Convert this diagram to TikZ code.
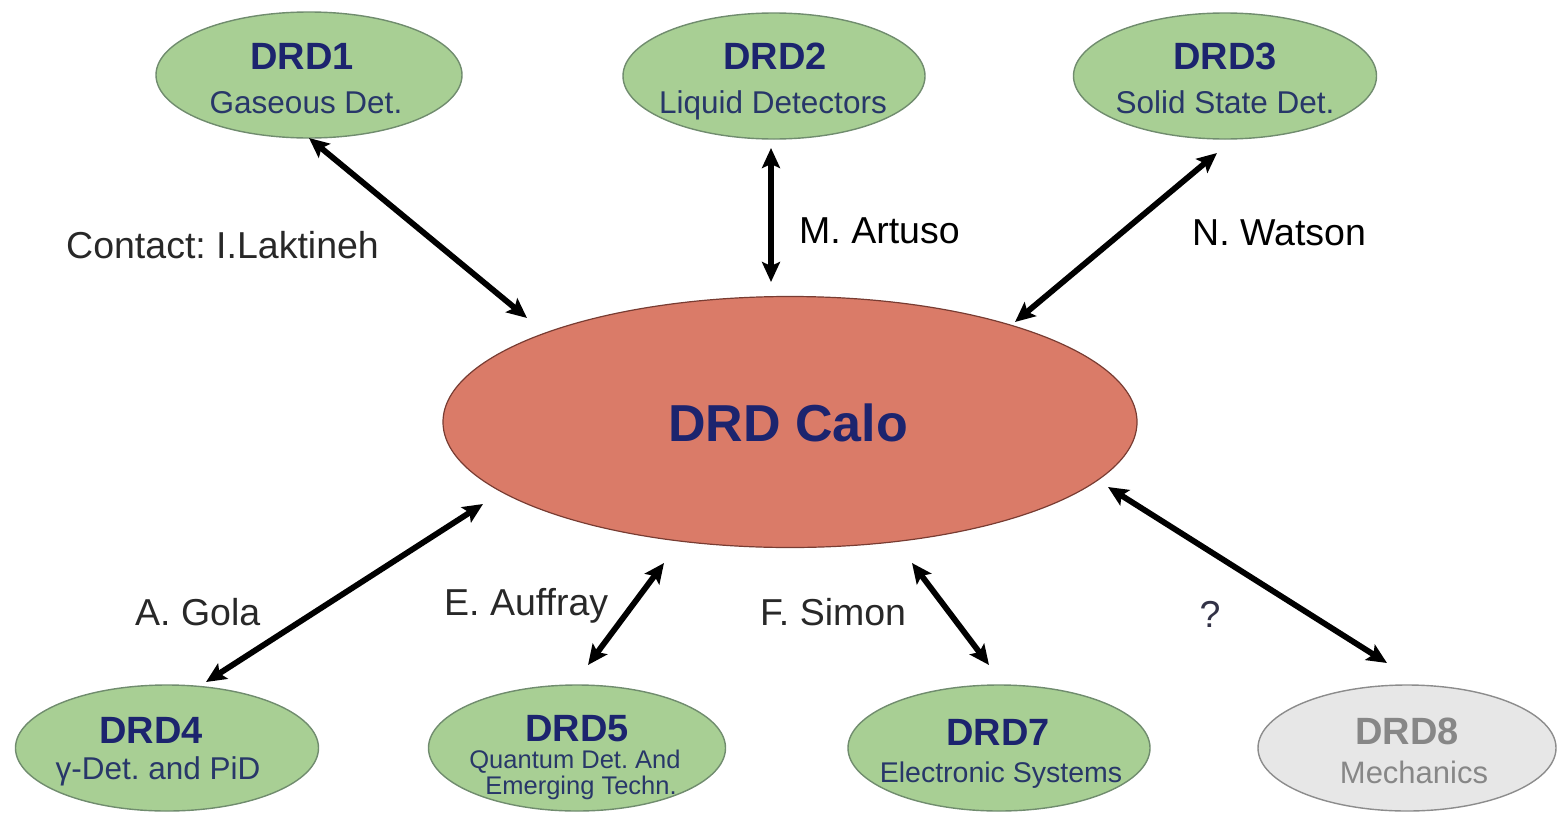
\documentclass[tikz,border=0pt]{standalone}
\usepackage{fontspec}
\setmainfont{Liberation Sans}
\usetikzlibrary{shapes.geometric,arrows.meta}
\frenchspacing

\definecolor{wgfill}{RGB}{168,207,148}
\definecolor{wgedge}{RGB}{112,140,110}
\definecolor{calofill}{RGB}{218,123,104}
\definecolor{caloedge}{RGB}{120,60,50}
\definecolor{greyfill}{RGB}{231,231,231}
\definecolor{greyedge}{RGB}{140,140,140}
\definecolor{greytext}{RGB}{135,135,135}
\definecolor{navy}{RGB}{28,36,110}
\definecolor{subnavy}{RGB}{40,55,105}
\definecolor{labelgrey}{RGB}{40,40,40}
\definecolor{qgrey}{RGB}{50,50,70}

\newcommand{\fs}[1]{\fontsize{#1}{#1}\selectfont}

\tikzset{
  wg/.style={ellipse, draw=wgedge, fill=wgfill, line width=1.4pt, inner sep=0pt},
  wgoff/.style={ellipse, draw=greyedge, fill=greyfill, line width=1.4pt, inner sep=0pt},
  calo/.style={ellipse, draw=caloedge, fill=calofill, line width=1.2pt, inner sep=0pt},
  title/.style={anchor=base, inner sep=0pt, text=navy, font=\fs{38}\bfseries},
  sub/.style={anchor=base, inner sep=0pt, text=subnavy, font=\fs{31.5}},
  contact/.style={anchor=base west, inner sep=0pt, text=labelgrey, font=\fs{37.5}},
  link/.style={line width=5.8pt,
    {Stealth[length=20pt,width=18pt,inset=4pt]}-{Stealth[length=20pt,width=18pt,inset=4pt]}},
}

\begin{document}
\begin{tikzpicture}[x=1pt,y=-1pt]
\useasboundingbox (0,0) rectangle (1557,814);

% central group
\node[calo, minimum width=694pt, minimum height=251pt] (calo) at (790,422) {};
\node[title, font=\fs{52}\bfseries] (calot) at (788,441) {DRD Calo};

% upper row of working groups
\node[wg, minimum width=306pt, minimum height=126pt] (d1) at (309,75) {};
\node[title] (d1t) at (302,69) {DRD1};
\node[sub] (d1s) at (306,113) {Gaseous Det.};

\node[wg, minimum width=302pt, minimum height=126pt] (d2) at (774,76) {};
\node[title] (d2t) at (775,69) {DRD2};
\node[sub] (d2s) at (773,113) {Liquid Detectors};

\node[wg, minimum width=303pt, minimum height=126pt] (d3) at (1225,76) {};
\node[title] (d3t) at (1225,69) {DRD3};
\node[sub] (d3s) at (1225,113) {Solid State Det.};

% lower row of working groups
\node[wg, minimum width=303pt, minimum height=126pt] (d4) at (167,748) {};
\node[title] (d4t) at (151,743) {DRD4};
\node[sub] (d4s) at (158,779) {γ-Det. and PiD};

\node[wg, minimum width=297pt, minimum height=126pt] (d5) at (577,748) {};
\node[title] (d5t) at (577,741) {DRD5};
\node[sub, font=\fs{25.5}] (d5s1) at (575,768) {Quantum Det. And};
\node[sub, font=\fs{25.5}] (d5s2) at (581,794) {Emerging Techn.};

\node[wg, minimum width=302pt, minimum height=126pt] (d7) at (999,748) {};
\node[title] (d7t) at (998,745) {DRD7};
\node[sub, font=\fs{28.5}] (d7s) at (1001,782) {Electronic Systems};

\node[wgoff, minimum width=298pt, minimum height=126pt] (d8) at (1407,748) {};
\node[title, text=greytext] (d8t) at (1407,744) {DRD8};
\node[sub, text=greytext, font=\fs{31}] (d8s) at (1414,783) {Mechanics};

% arrow end points
\coordinate (p1a) at (309,138);  \coordinate (p1b) at (527,318);
\coordinate (p2a) at (771,148);  \coordinate (p2b) at (771,282);
\coordinate (p3a) at (1217,153); \coordinate (p3b) at (1015,322);
\coordinate (p4a) at (206,682);  \coordinate (p4b) at (483,504);
\coordinate (p5a) at (588,665);  \coordinate (p5b) at (664,563);
\coordinate (p7a) at (989,665);  \coordinate (p7b) at (912,563);
\coordinate (p8a) at (1387,663); \coordinate (p8b) at (1108,487);

\draw[link] (p1a) -- (p1b);
\draw[link] (p2a) -- (p2b);
\draw[link] (p3a) -- (p3b);
\draw[link] (p4a) -- (p4b);
\draw[link] (p5a) -- (p5b);
\draw[link] (p7a) -- (p7b);
\draw[link] (p8a) -- (p8b);

% contact persons
\node[contact] (l1) at (66,258) {Contact: I.Laktineh};
\node[contact, text=black] (l2) at (799,243) {M. Artuso};
\node[contact, text=black] (l3) at (1192,245) {N. Watson};
\node[contact] (l4) at (135,625) {A. Gola};
\node[contact] (l5) at (444,615) {E. Auffray};
\node[contact] (l7) at (760,625) {F. Simon};
\node[contact, text=qgrey, anchor=base] (l8) at (1210,627) {?};
\end{tikzpicture}
\end{document}
